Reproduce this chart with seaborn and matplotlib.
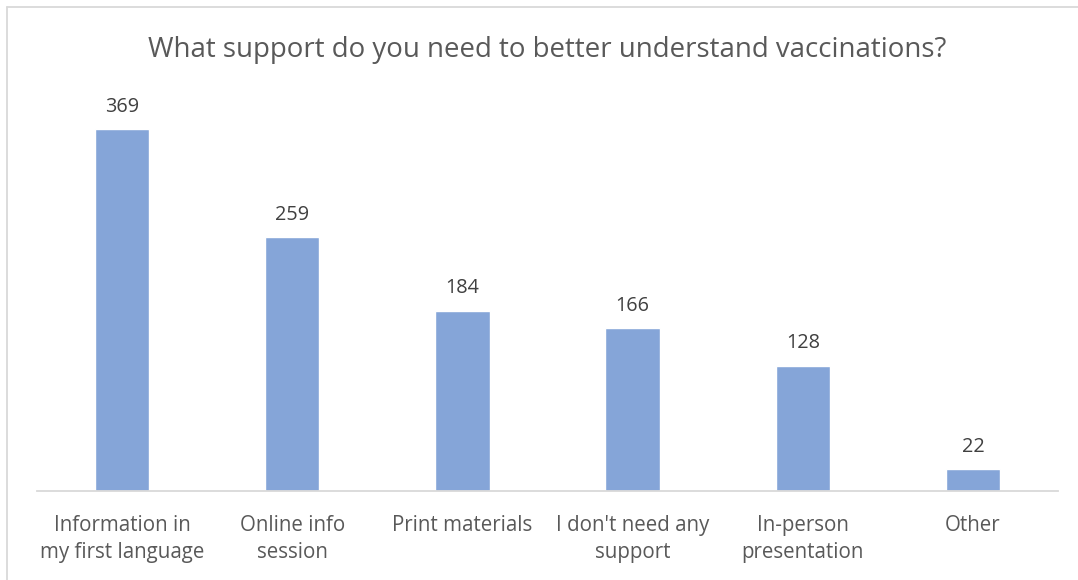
import matplotlib
matplotlib.use("Agg")
from matplotlib import pyplot as plt
from matplotlib.lines import Line2D
import pandas
import seaborn

categories = ["Information in\nmy first language", "Online info\nsession", "Print materials",
              "I don't need any\nsupport", "In-person\npresentation", "Other"]
counts = [369, 259, 184, 166, 128, 22]
title = "What support do you need to better understand vaccinations?"

seaborn.set_style("white")
plt.rcParams['font.family'] = ['Open Sans', 'DejaVu Sans']

frame = pandas.DataFrame({"support": categories, "count": counts})

fig = plt.figure(figsize=(10.78, 5.8), dpi=100)
ax = fig.add_axes([37 / 1078, 89 / 580, 1021 / 1078, 392 / 580])

seaborn.barplot(data=frame, x="support", y="count", color="#85A5D8", saturation=1,
                width=0.32, ax=ax)

ax.set_xlim(-0.5, len(categories) - 0.5)
ax.set_ylim(0, 400)
ax.set_xlabel("")
ax.set_ylabel("")
ax.set_yticks([])
ax.tick_params(axis="x", length=0, pad=17, labelsize=14.8, labelcolor="#595959")
for lbl in ax.get_xticklabels():
    lbl.set_linespacing(1.42)

for side in ["top", "right", "left"]:
    ax.spines[side].set_visible(False)
ax.spines["bottom"].set_color("#D9D9D9")
ax.spines["bottom"].set_linewidth(1.3)

for container in ax.containers:
    ax.bar_label(container, padding=9, fontsize=14.3, color="#404040")

fig.text(547 / 1078, 1 - 50 / 580, title, ha="center", va="center", fontsize=19.9, color="#595959")

# chart frame (only top and left edges visible in the reference crop)
fig.add_artist(Line2D([7 / 1078, 1], [1 - 7 / 580, 1 - 7 / 580], transform=fig.transFigure,
                      color="#D9D9D9", linewidth=1.3))
fig.add_artist(Line2D([7 / 1078, 7 / 1078], [0, 1 - 7 / 580], transform=fig.transFigure,
                      color="#D9D9D9", linewidth=1.3))

fig.savefig("out.png", dpi=100, facecolor="white")
